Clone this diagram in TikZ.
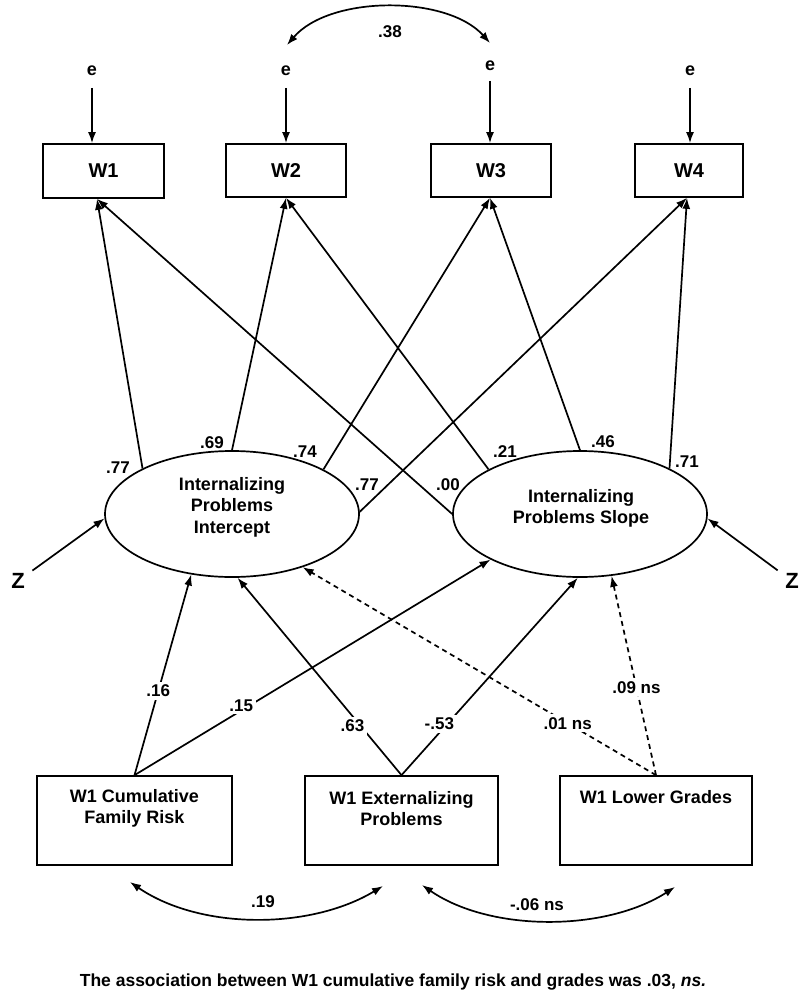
\documentclass[tikz,border=0pt]{standalone}
\usepackage{fontspec}
\setmainfont{Liberation Sans}
\usetikzlibrary{arrows.meta,calc,shapes.geometric}
\begin{document}
\begin{tikzpicture}[x=1pt,y=-1pt,
  line width=1.7pt,
  >={Latex[length=11pt,width=8pt]},
  obs/.style={draw,rectangle,inner sep=0pt},
  lat/.style={draw,ellipse,inner sep=0pt,minimum width=254pt,minimum height=126pt},
  txt/.style={font=\fontsize{18}{21.5}\selectfont\bfseries,align=center,inner sep=0pt},
  wlab/.style={font=\fontsize{20}{23}\selectfont\bfseries},
  elab/.style={font=\fontsize{18}{20}\selectfont\bfseries,inner sep=0pt},
  zlab/.style={font=\fontsize{22}{24}\selectfont\bfseries,inner sep=2pt},
  num/.style={font=\fontsize{17}{19}\selectfont\bfseries,inner sep=1.5pt},
  gap/.style={num,fill=white,inner sep=3pt},
  dsh/.style={dash pattern=on 5pt off 4pt},
]
\useasboundingbox (0,0) rectangle (801,993);
\fill[white] (0,0) rectangle (801,993);

% indicator boxes
\node[obs,wlab,minimum width=121pt,minimum height=54pt] (W1) at (103.5,171) {W1};
\node[obs,wlab,minimum width=120pt,minimum height=53pt] (W2) at (286,170.5) {W2};
\node[obs,wlab,minimum width=120pt,minimum height=53pt] (W3) at (491,170.5) {W3};
\node[obs,wlab,minimum width=108pt,minimum height=53pt] (W4) at (689,170.5) {W4};

% errors
\node[elab] (e1) at (92,71) {e};
\node[elab] (e2) at (286,71) {e};
\node[elab] (e3) at (490,66) {e};
\node[elab] (e4) at (690,71) {e};
\draw[->,shorten <=11pt] (e1) -- (e1 |- W1.north);
\draw[->,shorten <=11pt] (e2) -- (e2 |- W2.north);
\draw[->,shorten <=9pt] (e3) -- (e3 |- W3.north);
\draw[->,shorten <=11pt] (e4) -- (e4 |- W4.north);

% error covariance
\coordinate (a2) at (287,45);
\coordinate (a3) at (490,43);
\draw[<->] (a2) .. controls (330,-5) and (447,-5) .. (a3);
\node[num] (c38) at (390,32) {.38};

% latent factors
\node[lat] (I) at (232,514) {};
\node[lat] (S) at (580,514) {};
\node[txt] (It) at (232,507) {Internalizing\\Problems\\Intercept};
\node[txt] (St) at (581,508.5) {Internalizing\\Problems Slope};

% box bottom targets
\coordinate (t1) at ($(W1.south)+(-6.5,0)$);
\coordinate (t2) at (W2.south);
\coordinate (t3) at ($(W3.south)+(-1,0)$);
\coordinate (t4) at ($(W4.south)+(-2,0)$);

% loadings
\draw[->] (I.153) -- (t1);
\draw[->] (I.90) -- (t2);
\draw[->] (I.26.6) -- (t3);
\draw[->] (I.1.5) -- (t4);
\draw[->] (S.180) -- (t1);
\draw[->] (S.154) -- (t2);
\draw[->] (S.90) -- (t3);
\draw[->] (S.27) -- (t4);

\node[num] (l1) at (118,468) {.77};
\node[num] (l2) at (212,443) {.69};
\node[num] (l3) at (305,452) {.74};
\node[num] (l4) at (367,485) {.77};
\node[num] (l5) at (448,485) {.00};
\node[num] (l6) at (505,452) {.21};
\node[num] (l7) at (603,442) {.46};
\node[num] (l8) at (687,462) {.71};

% disturbances
\node[zlab] (Zl) at (18,581) {Z};
\node[zlab] (Zr) at (792,581) {Z};
\draw[->,shorten <=6pt] (Zl) -- (I.182);
\draw[->,shorten <=6pt] (Zr) -- (S.358);

% predictor boxes
\node[obs,minimum width=195pt,minimum height=89pt] (R) at (134.5,820.5) {};
\node[obs,minimum width=193pt,minimum height=89pt] (X) at (401.5,820.5) {};
\node[obs,minimum width=192pt,minimum height=89pt] (G) at (656,820.5) {};
\node[txt] (Rt) at (134.5,808.5) {W1 Cumulative\\Family Risk};
\node[txt] (Xt) at (401.5,808.5) {W1 Externalizing\\Problems};
\node[txt] (Gt) at (656,797) {W1 Lower Grades};

% regressions
\draw[->] (R.north) -- node[gap,pos=0.42]{.16} (I.236.5);
\draw[->] (R.north) -- node[gap,pos=0.3,yshift=5pt]{.15} (S.207.6);
\draw[->] (X.north) -- node[gap,pos=0.25,xshift=-8pt]{.63} (I.275.5);
\draw[->] (X.north) -- node[gap,pos=0.26,xshift=-8pt]{-.53} (S.268);
\draw[->,dsh] (G.north) -- node[gap,pos=0.25]{.01 ns} (I.323.6);
\draw[->,dsh] (G.north) -- node[gap,pos=0.44]{.09 ns} (S.297.6);

% predictor covariances
\coordinate (b1) at (130,882);
\coordinate (b2) at (383,886);
\coordinate (b3) at (422,885);
\coordinate (b4) at (675,887);
\draw[<->] (b1) .. controls (200,930) and (310,930) .. (b2);
\draw[<->] (b3) .. controls (490,932) and (605,932) .. (b4);
\node[num] (c19) at (263,902) {.19};
\node[num] (c06) at (537,905) {-.06 ns};

% note
\node[font=\fontsize{17.5}{20}\selectfont\bfseries,inner sep=0pt] (note) at (393,982)
  {The association between W1 cumulative family risk and grades was .03, \textit{ns.}};
\end{tikzpicture}
\end{document}
